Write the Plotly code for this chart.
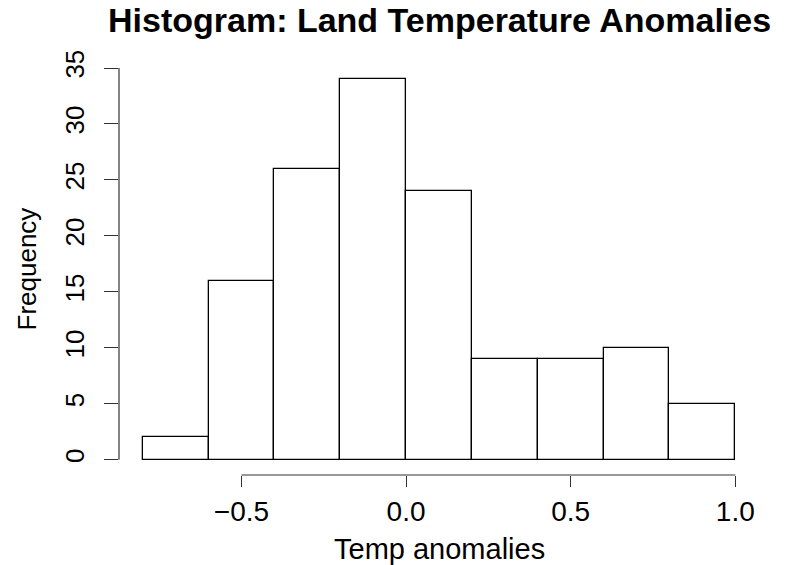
import plotly.graph_objects as go

bin_left = [-0.8, -0.6, -0.4, -0.2, 0.0, 0.2, 0.4, 0.6, 0.8]
bin_width = 0.2
counts = [2, 16, 26, 34, 24, 9, 9, 10, 5]
x_ticks = [-0.5, 0.0, 0.5, 1.0]
x_tick_labels = ["\u22120.5", "0.0", "0.5", "1.0"]
y_ticks = [0, 5, 10, 15, 20, 25, 30, 35]

centers = [b + bin_width / 2 for b in bin_left]

FONT = "Liberation Sans, Arial, Helvetica, sans-serif"
L, R, T, B = 119, 29, 64, 90
W, H = 788, 565
PH = H - T - B

fig = go.Figure(go.Bar(
    x=centers, y=counts, width=[bin_width] * len(counts),
    marker=dict(color="white", line=dict(color="black", width=1.3)),
    hoverinfo="skip",
))

xr = [bin_left[0] - 0.04 * 1.8, bin_left[-1] + bin_width + 0.04 * 1.8]
yr = [-0.04 * 34, 34 * 1.04]

fig.update_layout(
    width=W, height=H,
    margin=dict(l=L, r=R, t=T, b=B),
    paper_bgcolor="white", plot_bgcolor="white",
    showlegend=False, bargap=0,
    font=dict(family=FONT, size=26, color="black"),
    xaxis=dict(range=xr, showgrid=False, zeroline=False, showline=False,
               tickmode="array", tickvals=x_ticks, ticktext=x_tick_labels,
               ticks="outside", ticklen=11, tickwidth=1.2, tickcolor="#333",
               tickfont=dict(size=28), ticklabelstandoff=0),
    yaxis=dict(range=yr, showgrid=False, zeroline=False, showline=False,
               tickmode="array", tickvals=y_ticks,
               ticks="outside", ticklen=14, tickwidth=1.2, tickcolor="#333",
               tickfont=dict(size=26),
               tickangle=-90, ticklabelstandoff=10),
)

# titles as annotations (pixel-placed)
fig.add_annotation(text="<b>Histogram: Land Temperature Anomalies</b>",
                   xref="paper", yref="paper", x=0.5, y=1 + (T - 20) / PH,
                   xanchor="center", yanchor="middle", showarrow=False,
                   font=dict(size=34, family=FONT, color="black"))
fig.add_annotation(text="Temp anomalies",
                   xref="paper", yref="paper", x=0.5, y=-(549 - (H - B)) / PH,
                   xanchor="center", yanchor="middle", showarrow=False,
                   font=dict(size=29, family=FONT, color="black"))
fig.add_annotation(text="Frequency", textangle=-90,
                   xref="paper", yref="paper", x=-(L - 26) / (W - L - R), y=0.5,
                   xanchor="center", yanchor="middle", showarrow=False,
                   font=dict(size=26, family=FONT, color="black"))

# R-style axis lines spanning only the tick range
fig.add_shape(type="line", xref="x", yref="paper",
              x0=x_ticks[0], x1=x_ticks[-1], y0=0, y1=0,
              line=dict(color="#333", width=1.2))
fig.add_shape(type="line", xref="paper", yref="y",
              x0=0, x1=0, y0=y_ticks[0], y1=y_ticks[-1],
              line=dict(color="#333", width=1.2))

fig.write_html("out.html")
